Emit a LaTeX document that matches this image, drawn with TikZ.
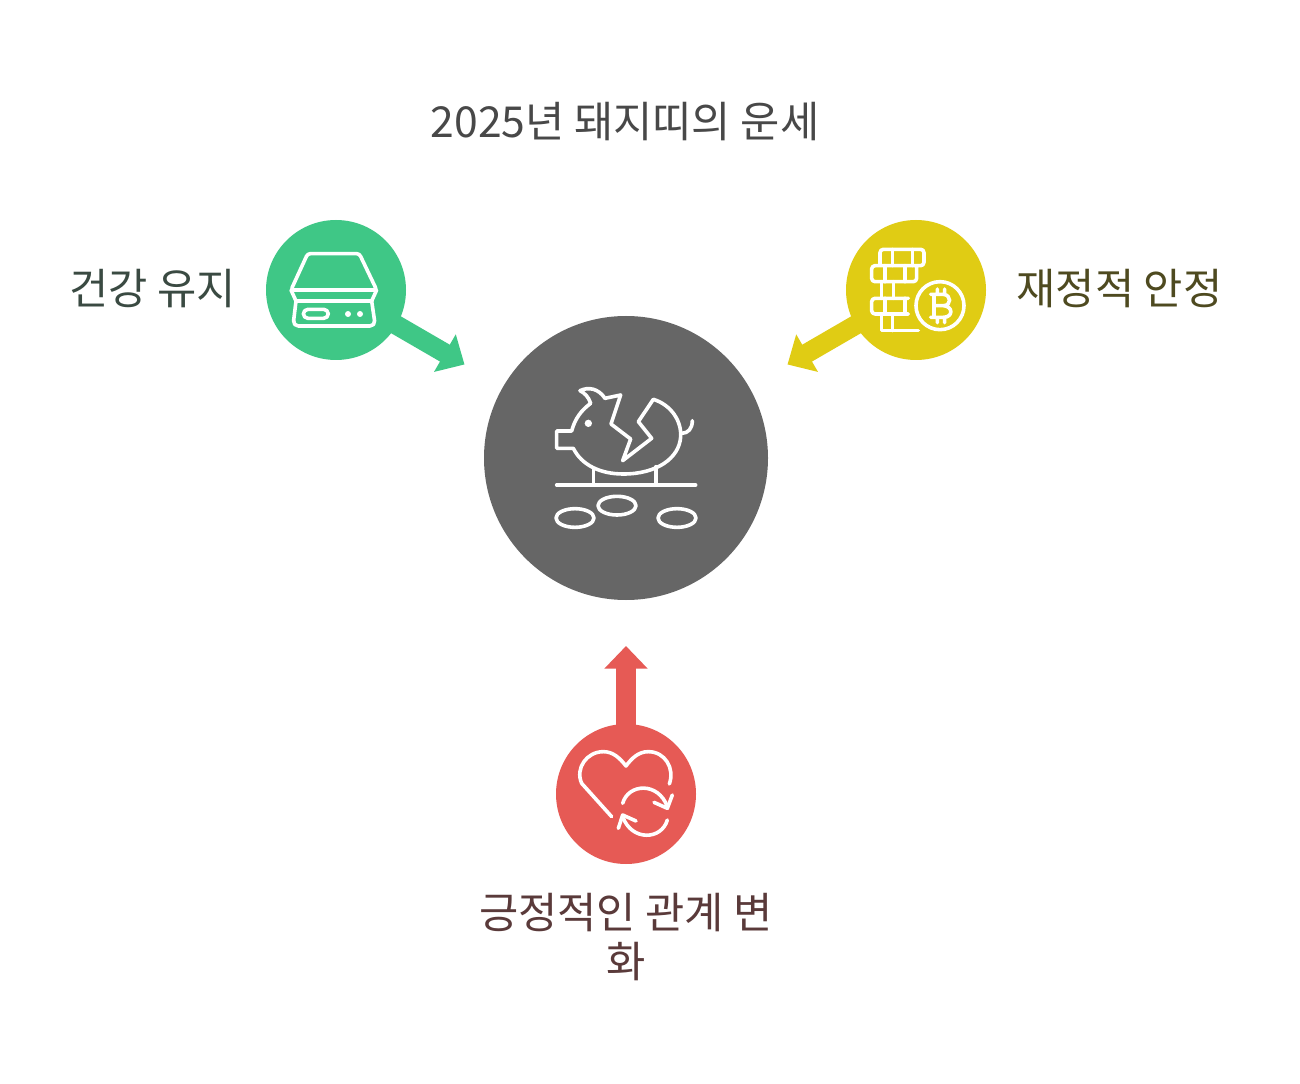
\documentclass[tikz,border=0pt]{standalone}
\usepackage{fontspec}
\setmainfont{Noto Sans CJK KR}
\usetikzlibrary{arrows.meta}
\definecolor{mgreen}{HTML}{3FC786}
\definecolor{myellow}{HTML}{E0CC14}
\definecolor{mred}{HTML}{E65A55}
\definecolor{mgray}{HTML}{666666}
\definecolor{tgray}{HTML}{484848}
\definecolor{tgreen}{HTML}{3A4A42}
\definecolor{tyellow}{HTML}{4E4A20}
\definecolor{tred}{HTML}{5A3A3A}
\tikzset{
  disc/.style={circle,inner sep=0pt,minimum size=105pt},
  hub/.style={circle,inner sep=0pt,minimum size=213pt,fill=mgray},
  fatarrow/.style={line width=14.6pt,-{Triangle[length=17pt,width=31.5pt]}},
  icon/.style={draw=white,line width=2.7pt,line cap=round,line join=round},
  lab/.style={font=\fontsize{32}{37}\selectfont,align=center,inner sep=0pt},
}
\begin{document}
\begin{tikzpicture}[x=0.75pt,y=-0.75pt]
\useasboundingbox (0,0) rectangle (1300,1084);
\fill[white] (0,0) rectangle (1300,1084);
\node[lab,text=tgray] (title) at (625,122) {2025년 돼지띠의 운세};
\node[lab,text=tgreen] (lg) at (152.5,289) {건강 유지};
\node[lab,text=tyellow] (ly) at (1119.5,289) {재정적 안정};
\node[lab,text=tred] (lr) at (626,937) {긍정적인 관계 변\\화};
\node[hub] (hub) at (626,458) {};
\node[disc,fill=mgreen] (g) at (336,290) {};
\node[disc,fill=myellow] (y) at (916,290) {};
\node[disc,fill=mred] (r) at (626,794) {};
\coordinate (gt) at (464.5,364.5);
\coordinate (yt) at (787.5,364.5);
\coordinate (rt) at (626,646);
\draw[fatarrow,draw=mgreen] (g.center) -- (gt);
\draw[fatarrow,draw=myellow] (y.center) -- (yt);
\draw[fatarrow,draw=mred] (r.center) -- (rt);
% pig
\begin{scope}[shift={(530,370)},x=0.25pt,y=-0.25pt,icon]
\draw (150,62) .. controls (175,50) and (205,55) .. (225,85) -- (272,75) -- (243,162) -- (302,207) -- (278,272) -- (365,205) -- (325,155) -- (370,88)
 .. controls (425,105) and (455,155) .. (452,200) .. controls (448,265) and (380,312) .. (280,312) .. controls (210,312) and (155,285) .. (130,235) -- (80,235) -- (80,183) -- (125,183) .. controls (135,145) and (155,120) .. (182,100) .. controls (175,80) and (165,70) .. (150,62) -- cycle;
\draw (455,190) .. controls (475,190) and (487,175) .. (487,152);
\draw (190,295) -- (190,345) (378,290) -- (378,345) (80,345) -- (497,345);
\draw (135,444) ellipse [x radius=57,y radius=28];
\draw (261,407) ellipse [x radius=57,y radius=28];
\draw (441,444) ellipse [x radius=57,y radius=28];
\fill[white,draw=none] (175,160) circle (11);
\end{scope}
% drive
\begin{scope}[shift={(260,215)},x=0.25pt,y=-0.25pt,icon]
\draw[rounded corners=2pt] (93,225) -- (143,116) -- (298,116) -- (350,225) -- cycle;
\draw (93,225) -- (108,258) -- (335,258) -- (350,225);
\draw[rounded corners=4pt] (108,258) -- (99,333) -- (346,333) -- (335,258);
\draw[rounded corners=3.5pt] (130,283) rectangle (205,310);
\fill[white,draw=none] (264,297) circle (9) (300,297) circle (9);
\end{scope}
% coins
\begin{scope}[shift={(780,215)},x=0.25pt,y=-0.25pt,icon]
\draw[rounded corners=2.5pt] (300,152) -- (300,103) -- (432,103) -- (432,152) -- (275,152) -- (275,200) -- (410,200) -- (410,152);
\draw (338,103) -- (338,152) (398,103) -- (398,152) (315,152) -- (315,200) (375,152) -- (375,200);
\draw (305,200) -- (305,250) (340,200) -- (340,250);
\draw[rounded corners=2.5pt] (385,297) -- (275,297) -- (275,250) -- (385,250);
\draw (315,250) -- (315,297) (375,250) -- (375,297);
\draw (305,297) -- (305,347) -- (415,347) (338,297) -- (338,347);
\draw (480,272) circle (72);
\draw (452,238) -- (490,238) .. controls (515,240) and (515,272) .. (490,272) -- (462,272) (490,272) .. controls (520,274) and (520,307) .. (490,307) -- (452,307) (462,238) -- (462,307) (472,222) -- (472,238) (494,222) -- (494,238) (472,307) -- (472,323) (494,307) -- (494,323);
\end{scope}
% heart
\begin{scope}[shift={(550,640)},x=0.25pt,y=-0.25pt,icon]
\draw (358,432) .. controls (375,385) and (345,335) .. (295,335) .. controls (265,335) and (245,355) .. (228,378) .. controls (210,355) and (190,335) .. (160,335) .. controls (110,335) and (75,385) .. (95,430) -- (185,530);
\draw (218,490) .. controls (235,430) and (325,425) .. (352,500);
\draw (367,465) -- (352,505) -- (312,487);
\draw (352,540) .. controls (335,600) and (245,605) .. (218,530);
\draw (205,565) -- (218,525) -- (258,543);
\end{scope}
\end{tikzpicture}
\end{document}
